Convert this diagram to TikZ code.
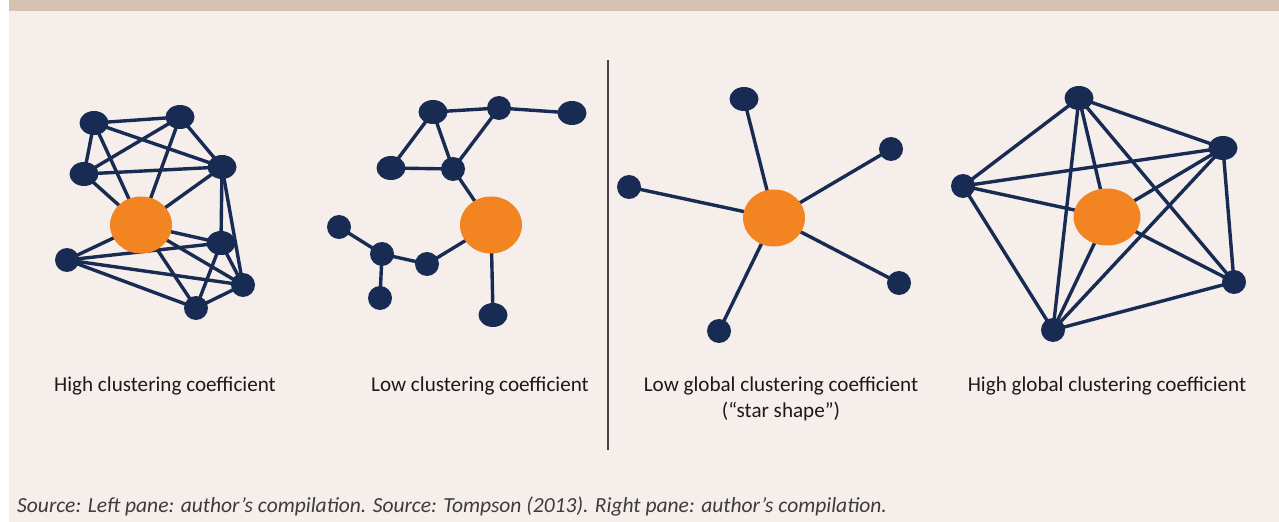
\documentclass[tikz,border=0pt]{standalone}
\usepackage{fontspec}
\setmainfont{Carlito}
\usetikzlibrary{shapes.geometric}
\definecolor{navy}{HTML}{182B52}
\definecolor{orng}{HTML}{F28522}
\definecolor{paper}{HTML}{F5EEEB}
\definecolor{band}{HTML}{D5C2B1}
\definecolor{sepline}{HTML}{4A4242}
\definecolor{txt}{HTML}{1A1A1A}
\pgfdeclarelayer{back}
\pgfdeclarelayer{edges}
\pgfsetlayers{back,edges,main}
\tikzset{
  dotE/.style={ellipse, fill=navy, inner sep=0pt, minimum width=29bp, minimum height=24bp},
  dotC/.style={ellipse, fill=navy, inner sep=0pt, minimum width=24bp, minimum height=24bp},
  hub/.style={ellipse, fill=orng, inner sep=0pt, minimum width=62bp, minimum height=57bp},
  link/.style={draw=navy, line width=3.4bp},
  caption/.style={font=\fontsize{21.2}{26}\selectfont, text=txt, align=center, inner sep=0pt},
  srcnote/.style={font=\fontsize{21.6}{24}\selectfont\itshape, text=txt!85, anchor=west, inner sep=0pt}
}
\begin{document}
\begin{tikzpicture}[x=1bp,y=-1bp]
\useasboundingbox (0,0) rectangle (1279,522);
\begin{pgfonlayer}{back}
\fill[white] (0,0) rectangle (1279,522);
\fill[paper] (9,11) rectangle (1279,522);
\fill[band] (9,0) rectangle (1279,11);
\end{pgfonlayer}

% separator
\coordinate (sepT) at (608,60);
\coordinate (sepB) at (608,450);
\draw[sepline, line width=1.3bp] (sepT) -- (sepB);

% ---- Graph 1: high clustering
\node[dotE] (a1) at (94,123) {};
\node[dotE] (b1) at (180,117) {};
\node[dotE] (c1) at (84,174) {};
\node[dotE] (d1) at (222,167) {};
\node[hub]  (o1) at (141,225) {};
\node[dotE] (e1) at (221,243) {};
\node[dotC] (f1) at (67,260) {};
\node[dotC] (g1) at (243,285) {};
\node[dotC] (h1) at (196,308) {};
\begin{pgfonlayer}{edges}
\foreach \u/\v in {a1/b1,a1/c1,a1/d1,a1/o1,b1/c1,b1/o1,b1/d1,c1/d1,c1/o1,d1/o1,d1/e1,d1/g1,o1/f1,o1/e1,o1/h1,o1/g1,e1/g1,e1/h1,f1/e1,f1/g1,f1/h1,h1/g1}
  \draw[link] (\u.center) -- (\v.center);
\end{pgfonlayer}

% ---- Graph 2: low clustering
\node[dotE] (p1) at (433,112) {};
\node[dotC] (p2) at (499,108) {};
\node[dotE] (p3) at (572,113) {};
\node[dotE] (p4) at (391,168) {};
\node[dotC] (p5) at (453,169) {};
\node[hub]  (o2) at (491,225) {};
\node[dotC] (p6) at (339,227) {};
\node[dotC] (p7) at (382,254) {};
\node[dotC] (p8) at (427,264) {};
\node[dotC] (p9) at (380,298) {};
\node[dotE] (p10) at (493,315) {};
\begin{pgfonlayer}{edges}
\foreach \u/\v in {p1/p2,p2/p3,p1/p4,p1/p5,p4/p5,p2/p5,p5/o2,p6/p7,p7/p8,p7/p9,p8/o2,o2/p10}
  \draw[link] (\u.center) -- (\v.center);
\end{pgfonlayer}

% ---- Graph 3: star
\node[dotE] (s1) at (744,99) {};
\node[dotC] (s2) at (891,149) {};
\node[dotC] (s3) at (629,187) {};
\node[hub]  (o3) at (774,218) {};
\node[dotC] (s4) at (899,283) {};
\node[dotC] (s5) at (719,331) {};
\begin{pgfonlayer}{edges}
\foreach \u in {s1,s2,s3,s4,s5}
  \draw[link] (o3.center) -- (\u.center);
\end{pgfonlayer}

% ---- Graph 4: high global clustering
\node[dotE] (t1) at (1079,98) {};
\node[dotE] (t2) at (1223,148) {};
\node[dotC] (t3) at (963,186) {};
\node[hub, minimum width=67bp] (o4) at (1107,217) {};
\node[dotC] (t4) at (1234,282) {};
\node[dotC] (t5) at (1053,330) {};
\begin{pgfonlayer}{edges}
\foreach \u/\v in {t1/t3,t1/t2,t1/t5,t1/o4,t1/t4,t3/t2,t3/o4,t3/t5,t2/o4,t2/t5,t2/t4,o4/t4,o4/t5,t5/t4}
  \draw[link] (\u.center) -- (\v.center);
\end{pgfonlayer}

% ---- captions
\node[caption] (cap1) at (165,386) {High clustering coefficient};
\node[caption] (cap2) at (480,386) {Low clustering coefficient};
\node[caption, anchor=north] (cap3) at (781,377) {Low global clustering coefficient\\(“star shape”)};
\node[caption] (cap4) at (1107,386) {High global clustering coefficient};
\node[srcnote] (src) at (17,506) {Source: Left pane: author’s compilation. Source: Tompson (2013). Right pane: author’s compilation.};
\end{tikzpicture}
\end{document}
